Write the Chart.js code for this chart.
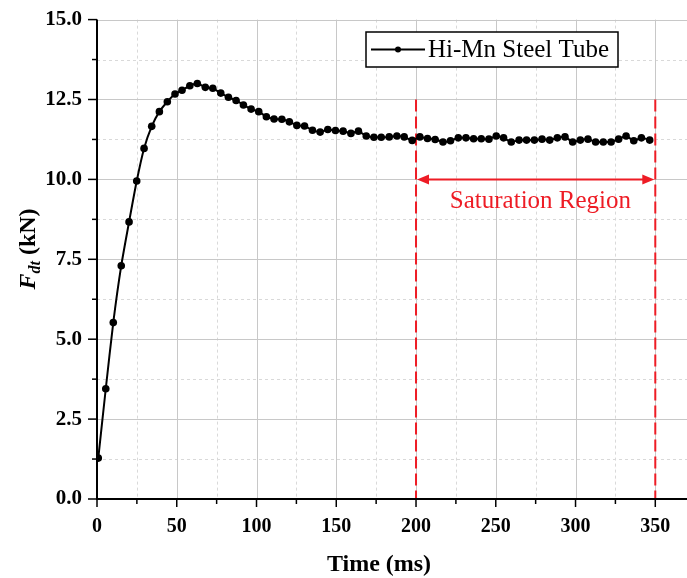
<!DOCTYPE html>
<html><head><meta charset="utf-8">
<script src="https://cdn.jsdelivr.net/npm/chart.js@4/dist/chart.umd.min.js"></script>
<style>html,body{margin:0;padding:0;background:#fff}#wrap{width:687px;height:578px;position:relative}</style>
</head><body><div id="wrap"><canvas id="c"></canvas></div>
<script>
const seriesLabel = 'Hi-Mn Steel Tube';
const timeMs = [0.8,5.5,10.2,15.2,20.1,24.9,29.5,34.3,39.1,44.1,48.9,53.3,58.2,62.9,67.9,72.6,77.6,82.4,87.2,91.8,96.6,101.4,106.2,111.0,115.9,120.6,125.3,130.1,135.1,139.9,144.7,149.5,154.3,159.2,163.9,168.8,173.6,178.2,183.2,188.0,192.6,197.6,202.4,207.2,212.0,216.9,221.6,226.5,231.3,236.1,240.9,245.7,250.3,254.9,259.7,264.6,269.3,274.2,279.0,283.8,288.6,293.4,298.2,303.0,307.8,312.6,317.4,322.3,327.0,331.7,336.5,341.3,346.5];
const forceKN = [1.28,3.45,5.52,7.30,8.67,9.95,10.97,11.66,12.12,12.43,12.67,12.79,12.93,13.00,12.88,12.85,12.70,12.57,12.47,12.33,12.20,12.12,11.96,11.89,11.88,11.80,11.69,11.67,11.54,11.48,11.56,11.53,11.51,11.44,11.51,11.36,11.32,11.32,11.33,11.36,11.33,11.22,11.33,11.28,11.25,11.17,11.21,11.30,11.30,11.27,11.27,11.26,11.36,11.30,11.17,11.23,11.23,11.23,11.26,11.23,11.30,11.33,11.17,11.23,11.26,11.17,11.17,11.17,11.26,11.36,11.21,11.30,11.23];
const xMajorTicks = [0,50,100,150,200,250,300,350];
const xMinorTicks = [25,75,125,175,225,275,325];
const yMajorTicks = [0,2.5,5,7.5,10,12.5,15];
const yMinorTicks = [1.25,3.75,6.25,8.75,11.25,13.75];
const xTitle = 'Time (ms)';
const yTitleMain = 'F', yTitleSub = 'dt', yTitleUnit = ' (kN)';
const saturationBounds = [200, 350];
const saturationTop = 12.5;
const arrowLevel = 10.0;
const saturationLabel = 'Saturation Region';
const saturationLabelPos = [278, 9.3];

const SERIF = '"Liberation Serif","Times New Roman",serif';

const drawPlugin = {
  id: 'drawPlugin',
  beforeDatasetsDraw(chart) {
    const ctx = chart.ctx, a = chart.chartArea, xs = chart.scales.x, ys = chart.scales.y;
    const R = chart.width;
    ctx.save();
    ctx.lineWidth = 1;
    ctx.strokeStyle = '#d9d9d9';
    ctx.setLineDash([3, 3]);
    xMinorTicks.forEach(v => { const p = Math.round(xs.getPixelForValue(v)) + 0.5; ctx.beginPath(); ctx.moveTo(p, a.top); ctx.lineTo(p, a.bottom); ctx.stroke(); });
    yMinorTicks.forEach(v => { const p = Math.round(ys.getPixelForValue(v)) + 0.5; ctx.beginPath(); ctx.moveTo(a.left, p); ctx.lineTo(R, p); ctx.stroke(); });
    ctx.setLineDash([]);
    ctx.strokeStyle = '#c8c8c8';
    xMajorTicks.forEach(v => { if (v === 0) return; const p = Math.round(xs.getPixelForValue(v)) + 0.5; ctx.beginPath(); ctx.moveTo(p, a.top); ctx.lineTo(p, a.bottom); ctx.stroke(); });
    yMajorTicks.forEach(v => { if (v === 0) return; const p = Math.round(ys.getPixelForValue(v)) + 0.5; ctx.beginPath(); ctx.moveTo(a.left, p); ctx.lineTo(R, p); ctx.stroke(); });
    ctx.strokeStyle = '#ee1c25';
    ctx.lineWidth = 2;
    ctx.setLineDash([12, 5]);
    saturationBounds.forEach(v => { const p = xs.getPixelForValue(v); ctx.beginPath(); ctx.moveTo(p, ys.getPixelForValue(saturationTop)); ctx.lineTo(p, a.bottom); ctx.stroke(); });
    ctx.setLineDash([]);
    const ay = ys.getPixelForValue(arrowLevel);
    const x1 = xs.getPixelForValue(saturationBounds[0]), x2 = xs.getPixelForValue(saturationBounds[1]);
    const hl = 13, hw = 5;
    ctx.beginPath(); ctx.moveTo(x1 + hl - 2, ay); ctx.lineTo(x2 - hl + 2, ay); ctx.stroke();
    ctx.fillStyle = '#ee1c25';
    ctx.beginPath(); ctx.moveTo(x1 + 1, ay); ctx.lineTo(x1 + hl, ay - hw); ctx.lineTo(x1 + hl, ay + hw); ctx.closePath(); ctx.fill();
    ctx.beginPath(); ctx.moveTo(x2 - 1, ay); ctx.lineTo(x2 - hl, ay - hw); ctx.lineTo(x2 - hl, ay + hw); ctx.closePath(); ctx.fill();
    ctx.font = '25px ' + SERIF;
    ctx.textAlign = 'center';
    ctx.textBaseline = 'middle';
    ctx.fillText(saturationLabel, xs.getPixelForValue(saturationLabelPos[0]), ys.getPixelForValue(saturationLabelPos[1]));
    ctx.restore();
  },
  afterDraw(chart) {
    const ctx = chart.ctx, a = chart.chartArea, xs = chart.scales.x, ys = chart.scales.y;
    const R = chart.width;
    ctx.save();
    ctx.strokeStyle = '#000';
    ctx.lineWidth = 2;
    ctx.beginPath(); ctx.moveTo(a.left, a.top); ctx.lineTo(a.left, a.bottom); ctx.lineTo(R, a.bottom); ctx.stroke();
    ctx.lineWidth = 1.5;
    xMajorTicks.forEach(v => { const p = xs.getPixelForValue(v); ctx.beginPath(); ctx.moveTo(p, a.bottom); ctx.lineTo(p, a.bottom + 8); ctx.stroke(); });
    xMinorTicks.forEach(v => { const p = xs.getPixelForValue(v); ctx.beginPath(); ctx.moveTo(p, a.bottom); ctx.lineTo(p, a.bottom + 5); ctx.stroke(); });
    yMajorTicks.forEach(v => { const p = ys.getPixelForValue(v); ctx.beginPath(); ctx.moveTo(a.left, p); ctx.lineTo(a.left - 9, p); ctx.stroke(); });
    yMinorTicks.forEach(v => { const p = ys.getPixelForValue(v); ctx.beginPath(); ctx.moveTo(a.left, p); ctx.lineTo(a.left - 5, p); ctx.stroke(); });
    const lx = 366, ly = 32, lw = 252, lh = 35;
    ctx.fillStyle = '#fff';
    ctx.fillRect(lx, ly, lw, lh);
    ctx.lineWidth = 1.5;
    ctx.strokeRect(lx, ly, lw, lh);
    const cy = ly + lh / 2;
    ctx.lineWidth = 2;
    ctx.beginPath(); ctx.moveTo(lx + 5, cy); ctx.lineTo(lx + 59, cy); ctx.stroke();
    ctx.fillStyle = '#000';
    ctx.beginPath(); ctx.arc(lx + 32, cy, 3, 0, Math.PI * 2); ctx.fill();
    ctx.font = '25px ' + SERIF;
    ctx.textAlign = 'left';
    ctx.textBaseline = 'middle';
    ctx.fillText(seriesLabel, lx + 62, cy + 1);
    ctx.font = 'bold 24px ' + SERIF;
    ctx.textAlign = 'center';
    ctx.fillText(xTitle, 379, 565);
    ctx.translate(27, 249);
    ctx.rotate(-Math.PI / 2);
    const fMain = 'italic bold 24px ' + SERIF, fSub = 'italic bold 16px ' + SERIF, fUnit = 'bold 24px ' + SERIF;
    ctx.font = fMain; const w1 = ctx.measureText(yTitleMain).width;
    ctx.font = fSub; const w2 = ctx.measureText(yTitleSub).width;
    ctx.font = fUnit; const w3 = ctx.measureText(yTitleUnit).width;
    let sx = -(w1 + w2 + w3) / 2;
    ctx.textAlign = 'left';
    ctx.textBaseline = 'alphabetic';
    ctx.font = fMain; ctx.fillText(yTitleMain, sx, 8); sx += w1;
    ctx.font = fSub; ctx.fillText(yTitleSub, sx, 13); sx += w2;
    ctx.font = fUnit; ctx.fillText(yTitleUnit, sx, 8);
    ctx.restore();
  }
};

new Chart(document.getElementById('c'), {
  type: 'line',
  data: {
    datasets: [{
      label: seriesLabel,
      data: timeMs.map((t, i) => ({ x: t, y: forceKN[i] })),
      borderColor: '#000',
      backgroundColor: '#000',
      borderWidth: 2,
      pointRadius: 3.8,
      pointHoverRadius: 3.8,
      pointBackgroundColor: '#000',
      pointBorderWidth: 0,
      tension: 0.2,
      fill: false
    }]
  },
  options: {
    responsive: true,
    maintainAspectRatio: false,
    devicePixelRatio: 1,
    animation: false,
    events: [],
    layout: { padding: { top: 5, right: 0, left: 0, bottom: 0 } },
    plugins: { legend: { display: false }, tooltip: { enabled: false } },
    scales: {
      x: {
        type: 'linear', min: 0, max: 367.5,
        afterBuildTicks: s => { s.ticks = xMajorTicks.map(v => ({ value: v })); },
        afterFit: s => { s.height = 79; },
        grid: { display: false },
        border: { display: false },
        ticks: { color: '#000', font: { family: SERIF, size: 20, weight: 'bold' }, padding: 8, maxRotation: 0, autoSkip: false, callback: v => String(v) }
      },
      y: {
        type: 'linear', min: 0, max: 15,
        afterBuildTicks: s => { s.ticks = yMajorTicks.map(v => ({ value: v })); },
        afterFit: s => { s.width = 97; },
        grid: { display: false },
        border: { display: false },
        ticks: { color: '#000', font: { family: SERIF, size: 21, weight: 'bold' }, padding: 7, autoSkip: false, callback: v => Number(v).toFixed(1) }
      }
    }
  },
  plugins: [drawPlugin]
});
</script>
</body></html>
